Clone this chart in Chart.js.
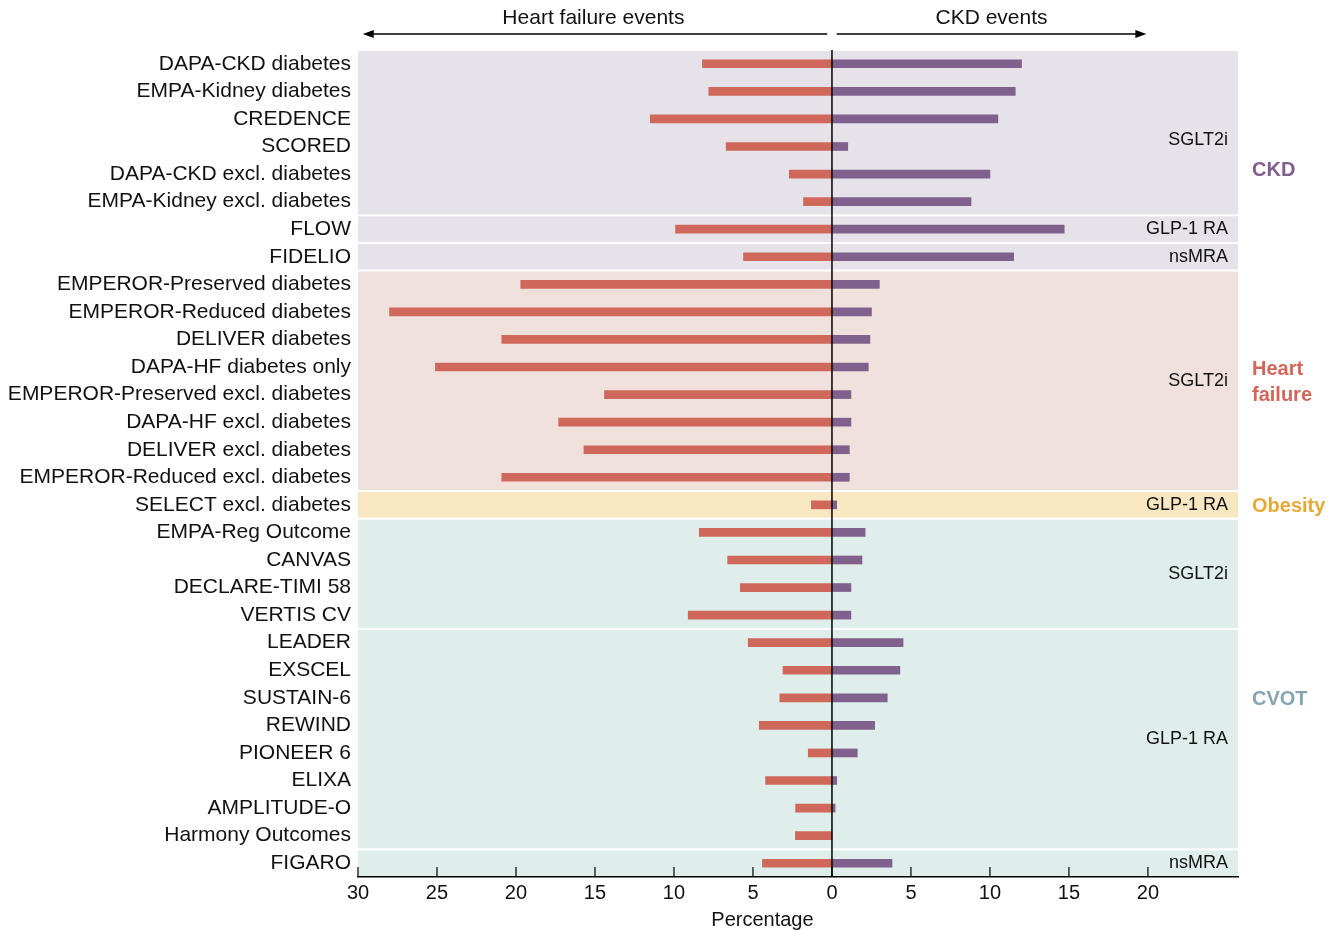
<!DOCTYPE html>
<html>
<head>
<meta charset="utf-8">
<script src="https://cdn.jsdelivr.net/npm/chart.js@4"></script>
<style>
  body { margin: 0; background: #fff; }
  canvas { display: block; }
</style>
</head>
<body>
<canvas id="chart" width="1343" height="931"></canvas>
<script>
// --- DATA ---
const trials = [
    'DAPA-CKD diabetes', 'EMPA-Kidney diabetes', 'CREDENCE', 'SCORED',
    'DAPA-CKD excl. diabetes', 'EMPA-Kidney excl. diabetes', 'FLOW', 'FIDELIO',
    'EMPEROR-Preserved diabetes', 'EMPEROR-Reduced diabetes', 'DELIVER diabetes',
    'DAPA-HF diabetes only', 'EMPEROR-Preserved excl. diabetes', 'DAPA-HF excl. diabetes',
    'DELIVER excl. diabetes', 'EMPEROR-Reduced excl. diabetes', 'SELECT excl. diabetes',
    'EMPA-Reg Outcome', 'CANVAS', 'DECLARE-TIMI 58', 'VERTIS CV',
    'LEADER', 'EXSCEL', 'SUSTAIN-6', 'REWIND', 'PIONEER 6', 'ELIXA',
    'AMPLITUDE-O', 'Harmony Outcomes', 'FIGARO'
];

// heart failure events (drawn to the left) and CKD events (to the right), %
const hfEvents = [8.2, 7.8, 11.5, 6.7, 2.7, 1.8, 9.9, 5.6,
    19.7, 28.0, 20.9, 25.1, 14.4, 17.3, 15.7, 20.9, 1.3,
    8.4, 6.6, 5.8, 9.1, 5.3, 3.1, 3.3, 4.6, 1.5, 4.2, 2.3, 2.3, 4.4];
const ckdEvents = [12.0, 11.6, 10.5, 1.0, 10.0, 8.8, 14.7, 11.5,
    3.0, 2.5, 2.4, 2.3, 1.2, 1.2, 1.1, 1.1, 0.3,
    2.1, 1.9, 1.2, 1.2, 4.5, 4.3, 3.5, 2.7, 1.6, 0.3, 0.2, 0, 3.8];

const tickValues = [-30, -25, -20, -15, -10, -5, 0, 5, 10, 15, 20];

// population blocks (first row, last row)
const classNames = [['CKD'], ['Heart', 'failure'], ['Obesity'], ['CVOT']];
const classRows = [[0, 7], [8, 15], [16, 16], [17, 29]];
const classColors = ['#7e5f8e', '#d3665a', '#e6a935', '#87a5b1'];
const classFills = ['#e5e2ea', '#f0e1dc', '#f8e7c1', '#dfeeea'];

// drug class blocks inside them
const drugLabels = ['SGLT2i', 'GLP-1 RA', 'nsMRA', 'SGLT2i', 'GLP-1 RA', 'SGLT2i', 'GLP-1 RA', 'nsMRA'];
const drugRows = [[0, 5], [6, 6], [7, 7], [8, 15], [16, 16], [17, 20], [21, 28], [29, 29]];
const drugClass = [0, 0, 0, 1, 2, 3, 3, 3];

const FONT = '"Liberation Sans", Arial, Helvetica, sans-serif';

// --- PLUGINS ---
const panels = {
    id: 'panels',
    beforeDatasetsDraw(chart) {
        const { ctx, chartArea, scales } = chart;
        const y = scales.y;
        const half = (y.getPixelForValue(1) - y.getPixelForValue(0)) / 2;
        ctx.save();
        drugRows.forEach((r, i) => {
            const top = y.getPixelForValue(r[0]) - half + 1;
            const bottom = y.getPixelForValue(r[1]) + half - 1;
            ctx.fillStyle = classFills[drugClass[i]];
            ctx.fillRect(chartArea.left, top, chartArea.right - chartArea.left, bottom - top);
        });
        ctx.restore();
    },
    afterDatasetsDraw(chart) {
        const { ctx, chartArea, scales } = chart;
        const x = scales.x, y = scales.y;
        const x0 = x.getPixelForValue(0);
        ctx.save();

        // zero line
        ctx.strokeStyle = '#000';
        ctx.lineWidth = 1.5;
        ctx.beginPath();
        ctx.moveTo(x0, chartArea.top);
        ctx.lineTo(x0, chartArea.bottom);
        ctx.stroke();

        // tick marks pointing up into the plot
        ctx.lineWidth = 1.2;
        tickValues.forEach(v => {
            const px = x.getPixelForValue(v);
            ctx.beginPath();
            ctx.moveTo(px, chartArea.bottom);
            ctx.lineTo(px, chartArea.bottom - 10);
            ctx.stroke();
        });

        // drug class labels (the top one sits a bit low in the original)
        ctx.fillStyle = '#111';
        ctx.font = '18px ' + FONT;
        ctx.textAlign = 'right';
        ctx.textBaseline = 'middle';
        drugRows.forEach((r, i) => {
            const cy = (y.getPixelForValue(r[0]) + y.getPixelForValue(r[1])) / 2;
            ctx.fillText(drugLabels[i], chartArea.right - 10, cy + (i === 0 ? 7 : 0));
        });

        // population labels
        ctx.font = 'bold 20px ' + FONT;
        ctx.textAlign = 'left';
        classRows.forEach((r, i) => {
            const cy = (y.getPixelForValue(r[0]) + y.getPixelForValue(r[1])) / 2;
            const lines = classNames[i];
            ctx.fillStyle = classColors[i];
            lines.forEach((t, j) => {
                ctx.fillText(t, chartArea.right + 14, cy + 2 + (i === 0 ? 8 : 0) + (j - (lines.length - 1) / 2) * 26);
            });
        });

        // header arrows
        const ay = 34;
        const drawArrow = (from, to) => {
            const a = x.getPixelForValue(from), b = x.getPixelForValue(to);
            const dir = Math.sign(b - a);
            ctx.strokeStyle = '#000';
            ctx.fillStyle = '#000';
            ctx.lineWidth = 1.3;
            ctx.beginPath();
            ctx.moveTo(a, ay);
            ctx.lineTo(b - dir * 8, ay);
            ctx.stroke();
            ctx.beginPath();
            ctx.moveTo(b, ay);
            ctx.lineTo(b - dir * 11, ay - 4);
            ctx.lineTo(b - dir * 11, ay + 4);
            ctx.closePath();
            ctx.fill();
        };
        drawArrow(-0.3, -29.7);
        drawArrow(0.3, 19.9);

        ctx.fillStyle = '#111';
        ctx.font = '21px ' + FONT;
        ctx.textAlign = 'center';
        ctx.fillText('Heart failure events', x.getPixelForValue(-15.1), 18);
        ctx.fillText('CKD events', x.getPixelForValue(10.1), 18);

        // axis title, centred under the labelled range
        ctx.font = '20px ' + FONT;
        ctx.fillText('Percentage', x.getPixelForValue(-4.4), 920);
        ctx.restore();
    }
};

// --- CHART ---
new Chart(document.getElementById('chart'), {
    type: 'bar',
    data: {
        labels: trials,
        datasets: [
            {
                label: 'Heart failure events',
                data: hfEvents.map(v => -v),
                backgroundColor: '#d0675b',
                barThickness: 8
            },
            {
                label: 'CKD events',
                data: ckdEvents,
                backgroundColor: '#80618e',
                barThickness: 8
            }
        ]
    },
    options: {
        indexAxis: 'y',
        responsive: false,
        animation: false,
        layout: { padding: { top: 50, right: 105, bottom: 0, left: 0 } },
        plugins: { legend: { display: false }, tooltip: { enabled: false } },
        scales: {
            x: {
                type: 'linear',
                stacked: true,
                min: -30,
                max: 25.7,
                afterBuildTicks: s => { s.ticks = tickValues.map(v => ({ value: v })); },
                afterFit: s => { s.height = 54; },
                grid: { display: false, drawTicks: false },
                border: { display: true, color: '#000', width: 1.5 },
                ticks: {
                    color: '#111',
                    font: { family: FONT, size: 20 },
                    padding: 4,
                    maxRotation: 0,
                    callback: v => Math.abs(v)
                }
            },
            y: {
                type: 'category',
                stacked: true,
                offset: true,
                afterFit: s => { s.width = 358; },
                grid: { display: false, drawTicks: false },
                border: { display: false },
                ticks: {
                    color: '#111',
                    font: { family: FONT, size: 21 },
                    padding: 7,
                    autoSkip: false
                }
            }
        }
    },
    plugins: [panels]
});
</script>
</body>
</html>
